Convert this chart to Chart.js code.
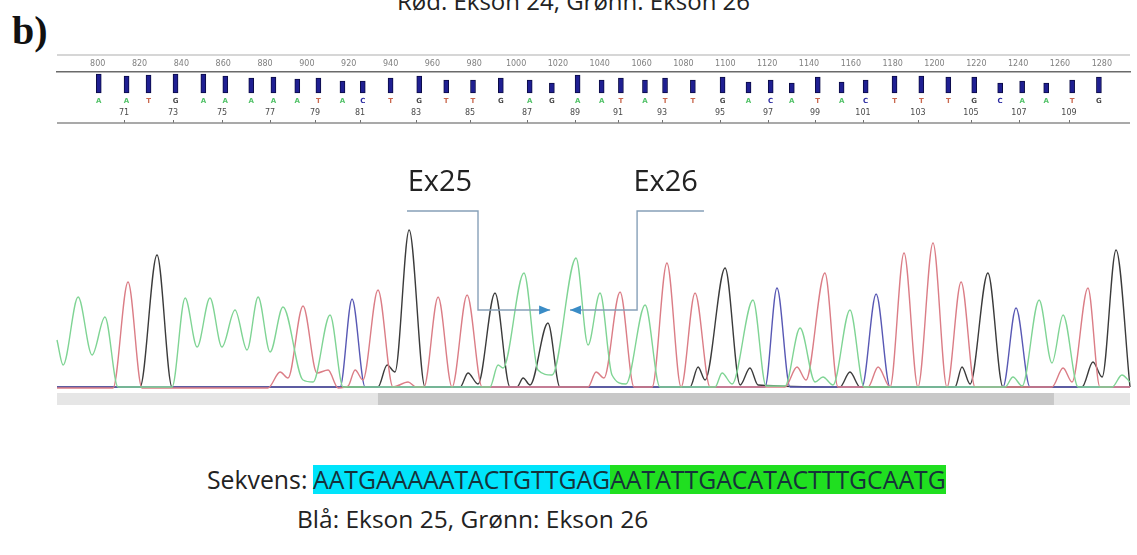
<!DOCTYPE html>
<html>
<head>
<meta charset="utf-8">
<script src="https://cdn.jsdelivr.net/npm/chart.js@4/dist/chart.umd.min.js"></script>
<style>
  html, body { margin: 0; padding: 0; background: #fff; }
  #page { position: relative; width: 1137px; height: 555px; overflow: hidden; font-family: 'Open Sans', sans-serif; color: #1e1e1e; }
  .abs { position: absolute; white-space: nowrap; }
  #panel { left: 12px; top: 11px; font: bold 40px/40px 'Liberation Serif', serif; color: #111; }
  #title { left: 397px; top: -14px; font-size: 24px; line-height: 29px; color: #222; }
  #ruler { position: absolute; left: 0; top: 48px; }
  #trace { position: absolute; left: 0; top: 140px; }
  #seqlabel { left: 207px; top: 465px; font-size: 24.8px; line-height: 29px; color: #222; }
  #seq { left: 313px; top: 465px; font-size: 24.8px; line-height: 29px; }
  #seq span { display: inline-block; height: 29px; color: #16323a; }
  #ex25seq { background: #00e4fb; }
  #ex26seq { background: #20df20; color: #10300f; }
  #legend { left: 297px; top: 504px; font-size: 24.5px; line-height: 29px; color: #222; }
</style>
</head>
<body>
<div id="page">
  <div class="abs" id="panel">b)</div>
  <div class="abs" id="title">Rød: Ekson 24, Grønn: Ekson 26</div>
  <canvas id="ruler" width="1137" height="80"></canvas>
  <canvas id="trace" width="1137" height="275"></canvas>
  <div class="abs" id="seqlabel">Sekvens:</div>
  <div class="abs" id="seq"><span id="ex25seq"></span><span id="ex26seq"></span></div>
  <div class="abs" id="legend">Blå: Ekson 25, Grønn: Ekson 26</div>
</div>

<script>
// ---- read window (scan points) ----
const X_MIN = 790.8;
const X_MAX = 1283.2;
const scanTicks = [800, 820, 840, 860, 880, 900, 920, 940, 960, 980, 1000, 1020, 1040,
                   1060, 1080, 1100, 1120, 1140, 1160, 1180, 1200, 1220, 1240, 1260, 1280];

// ---- base calls ----
const exon25Seq = 'AATGAAAAATACTGTTGAG';
const exon26Seq = 'AATATTGACATACTTTGCAATG';
const baseCalls = exon25Seq + exon26Seq;
const firstBase = 70;
const basePos = [800.5, 813.8, 824.3, 837.2, 850.5, 861.0, 873.4, 884.0, 895.4, 905.5,
                 917.0, 926.7, 940.0, 953.7, 966.6, 979.4, 992.7, 1006.5, 1017.1, 1029.4,
                 1040.9, 1050.1, 1061.6, 1071.2, 1084.5, 1098.7, 1111.1, 1121.7, 1131.8, 1144.2,
                 1155.6, 1167.1, 1180.9, 1193.7, 1206.6, 1219.0, 1231.4, 1241.9, 1253.4, 1265.8,
                 1278.6];
const quality = [38, 34, 36, 38, 38, 34, 30, 32, 28, 30, 24, 24, 30, 34, 26, 26, 30, 26, 20, 36,
                 26, 30, 26, 30, 26, 32, 22, 26, 20, 32, 22, 26, 34, 34, 32, 32, 20, 24, 20, 26, 32];

// ---- trace signal per dye channel (scan point, intensity) ----
const aX = [790.8, 793.6, 800.5, 806.9, 812.8, 818.8, 843.6, 849.6, 855.1, 861.0, 866.5, 872.5,
            878.0, 883.1, 888.6, 894.5, 903.7, 908.3, 916.1, 922.1, 989.5, 993.2, 995.5, 1005.1,
            1011.5, 1018.0, 1029.0, 1034.5, 1040.0, 1045.5, 1051.9, 1060.7, 1067.5, 1092.8, 1096.0,
            1100.6, 1110.2, 1116.2, 1124.9, 1131.8, 1138.7, 1142.3, 1146.9, 1154.7, 1161.2, 1225.9,
            1229.5, 1233.7, 1241.5, 1247.4, 1252.5, 1259.4, 1275.0, 1279.5, 1283.2];
const aY = [50, 25, 93, 35, 73, 3, 3, 92, 43, 92, 43, 80,
            40, 93, 38, 83, 10, 8, 75, 3, 3, 25, 22, 117,
            20, 15, 132, 45, 97, 15, 6, 85, 3, 3, 17,
            6, 90, 4, 4, 62, 8, 13, 5, 80, 3, 3,
            13, 4, 90, 27, 75, 3, 3, 15, 8];

const cX = [790.8, 920.7, 926.2, 932.2, 1115.7, 1121.2, 1127.2, 1160.2, 1166.7, 1173.1,
            1224.9, 1230.9, 1237.3, 1283.2];
const cY = [3, 3, 91, 3, 3, 102, 3, 3, 96, 3,
            3, 82, 3, 3];

const gX = [790.8, 828.9, 836.7, 843.6, 938.1, 942.3, 945.9, 952.4, 959.7, 975.8, 979.4, 984.0,
            991.8, 998.7, 1001.9, 1004.7, 1007.9, 1016.1, 1021.6, 1081.3, 1085.0, 1088.2, 1097.4,
            1104.3, 1108.8, 1112.5, 1150.1, 1154.7, 1159.3, 1202.9, 1206.1, 1209.8, 1218.0, 1224.9,
            1261.2, 1266.2, 1270.4, 1276.8, 1283.2];
const gY = [3, 3, 135, 3, 3, 25, 18, 160, 3, 3, 17, 6,
            97, 3, 3, 12, 5, 67, 3, 3, 23, 10, 122,
            5, 22, 5, 3, 18, 3, 3, 23, 6, 117, 3,
            3, 28, 13, 140, 3];

const tX = [790.8, 816.5, 823.4, 829.8, 887.6, 893.2, 896.8, 903.7, 910.1, 915.2, 919.8, 924.4,
            927.6, 931.2, 938.1, 945.0, 951.9, 955.6, 959.2, 965.7, 972.1, 979.0, 985.9, 1034.5,
            1038.2, 1041.8, 1049.2, 1055.6, 1063.9, 1070.7, 1077.2, 1083.6, 1090.5, 1124.9, 1130.4,
            1134.5, 1143.2, 1149.2, 1163.0, 1167.6, 1173.1, 1179.5, 1185.9, 1192.8, 1199.2, 1205.7,
            1212.1, 1247.4, 1252.5, 1256.6, 1263.9, 1269.4, 1283.2];
const tY = [2, 2, 108, 2, 2, 18, 12, 84, 17, 20, 2, 4,
            20, 10, 100, 3, 8, 3, 3, 93, 3, 95, 3, 3,
            18, 12, 98, 3, 3, 127, 3, 97, 3, 3, 23,
            10, 117, 3, 3, 23, 3, 137, 3, 147, 3, 108,
            3, 3, 22, 8, 102, 3, 3];

// clear (high quality) stretch of the read, scan points
const clearRange = [938.1, 1248.3];

// exon boundary call-outs (scan point, intensity)
const exonMarks = [
  { label: 'Ex25', at: [966.5, 207], path: [[951.4, 179], [984.0, 179], [984.0, 80], [1017.1, 80]] },
  { label: 'Ex26', at: [1070.1, 207], path: [[1087.7, 179], [1057.0, 179], [1057.0, 80], [1026.2, 80]] }
];

// ---- styling ----
const callColor = { A: '#52c268', C: '#2a2aa0', G: '#4a4a4a', T: '#c9694f' };
const dyeColor  = { A: '#7fd494', C: '#5858b4', G: '#3b3b3b', T: '#db7d86' };
const QV_FLOOR = 60;

document.getElementById('ex25seq').textContent = exon25Seq;
document.getElementById('ex26seq').textContent = exon26Seq;

// base calls, numbering and frame of the ruler strip
const rulerDecor = {
  id: 'rulerDecor',
  afterDraw(chart) {
    const { ctx, chartArea: a, scales: { x } } = chart;
    ctx.save();
    ctx.strokeStyle = '#d6d6d6';
    ctx.lineWidth = 2;
    ctx.beginPath(); ctx.moveTo(a.left, a.top - 17); ctx.lineTo(a.right, a.top - 17); ctx.stroke();

    ctx.textAlign = 'center';
    ctx.textBaseline = 'middle';
    ctx.font = 'bold 7px "DejaVu Sans"';
    baseCalls.split('').forEach((b, i) => {
      ctx.fillStyle = callColor[b];
      ctx.fillText(b, x.getPixelForValue(basePos[i]), a.top + 29);
    });

    ctx.font = '8px "DejaVu Sans"';
    ctx.fillStyle = '#4a4a4a';
    ctx.strokeStyle = '#707070';
    ctx.lineWidth = 1;
    basePos.forEach((p, i) => {
      const n = firstBase + i;
      if (n % 2 === 0) return;
      const px = Math.round(x.getPixelForValue(p)) - 3;
      ctx.fillText(String(n), px, a.top + 41);
      ctx.beginPath(); ctx.moveTo(px + 0.5, a.bottom - 3); ctx.lineTo(px + 0.5, a.bottom); ctx.stroke();
    });

    ctx.strokeStyle = '#8c8c8c';
    ctx.lineWidth = 1.5;
    ctx.beginPath(); ctx.moveTo(a.left, a.bottom); ctx.lineTo(a.right, a.bottom); ctx.stroke();
    ctx.restore();
  }
};

new Chart(document.getElementById('ruler'), {
  type: 'bar',
  data: {
    datasets: [{
      data: basePos.map((p, i) => ({ x: p, y: [QV_FLOOR, QV_FLOOR + quality[i]] })),
      backgroundColor: '#1f1f92',
      borderColor: '#0b0b45',
      borderWidth: 1,
      borderSkipped: false,
      barThickness: 5
    }]
  },
  options: {
    responsive: false,
    animation: false,
    events: [],
    layout: { padding: { left: 57, right: 7, top: 7, bottom: 5 } },
    plugins: { legend: { display: false }, tooltip: { enabled: false } },
    scales: {
      x: {
        type: 'linear',
        position: 'top',
        min: X_MIN,
        max: X_MAX,
        afterBuildTicks: s => { s.ticks = scanTicks.map(v => ({ value: v })); },
        afterFit: s => { s.height = 17; },
        grid: { display: false, drawTicks: false },
        border: { display: true, color: '#6a6a6a', width: 1.5 },
        ticks: {
          font: { size: 8, family: 'DejaVu Sans' },
          color: '#808080',
          padding: 3,
          maxRotation: 0,
          autoSkip: false,
          callback: v => String(v)
        }
      },
      y: { display: false, min: 0, max: 102 }
    }
  },
  plugins: [rulerDecor]
});

// clear-range bar under the trace and the exon call-outs
const traceDecor = {
  id: 'traceDecor',
  beforeDatasetsDraw(chart) {
    const { ctx, chartArea: a, scales: { x } } = chart;
    ctx.save();
    ctx.fillStyle = '#e6e6e6';
    ctx.fillRect(a.left, a.bottom + 3, a.right - a.left, 12);
    const x0 = x.getPixelForValue(clearRange[0]);
    const x1 = x.getPixelForValue(clearRange[1]);
    ctx.fillStyle = '#c8c8c8';
    ctx.fillRect(x0, a.bottom + 3, x1 - x0, 12);
    ctx.restore();
  },
  afterDatasetsDraw(chart) {
    const { ctx, scales: { x, y } } = chart;
    ctx.save();
    exonMarks.forEach(m => {
      const pts = m.path.map(([u, v]) => [x.getPixelForValue(u), y.getPixelForValue(v)]);
      ctx.strokeStyle = '#87a0b8';
      ctx.lineWidth = 1.4;
      ctx.beginPath();
      pts.forEach(([px, py], i) => i ? ctx.lineTo(px, py) : ctx.moveTo(px, py));
      ctx.stroke();
      const [tx, ty] = pts[pts.length - 1];
      const [sx] = pts[pts.length - 2];
      const dir = Math.sign(tx - sx);
      ctx.fillStyle = '#3a8cc6';
      ctx.beginPath();
      ctx.moveTo(tx, ty);
      ctx.lineTo(tx - dir * 11, ty - 4.5);
      ctx.lineTo(tx - dir * 11, ty + 4.5);
      ctx.closePath();
      ctx.fill();

      ctx.fillStyle = '#222';
      ctx.font = '29px "Open Sans"';
      ctx.textAlign = 'center';
      ctx.textBaseline = 'middle';
      ctx.fillText(m.label, x.getPixelForValue(m.at[0]), y.getPixelForValue(m.at[1]));
    });
    ctx.restore();
  }
};

const channels = [
  { xs: aX, ys: aY, color: dyeColor.A },
  { xs: tX, ys: tY, color: dyeColor.T },
  { xs: cX, ys: cY, color: dyeColor.C },
  { xs: gX, ys: gY, color: dyeColor.G }
];

new Chart(document.getElementById('trace'), {
  type: 'scatter',
  data: {
    datasets: channels.map(ch => ({
      data: ch.xs.map((u, i) => ({ x: u, y: ch.ys[i] })),
      showLine: true,
      borderColor: ch.color,
      borderWidth: 1.4,
      pointRadius: 0,
      cubicInterpolationMode: 'monotone',
      clip: false
    }))
  },
  options: {
    responsive: false,
    animation: false,
    events: [],
    layout: { padding: { left: 57, right: 7, top: 20, bottom: 25 } },
    plugins: { legend: { display: false }, tooltip: { enabled: false } },
    scales: {
      x: { type: 'linear', display: false, min: X_MIN, max: X_MAX },
      y: { display: false, min: 0, max: 230 }
    }
  },
  plugins: [traceDecor]
});
</script>
</body>
</html>
